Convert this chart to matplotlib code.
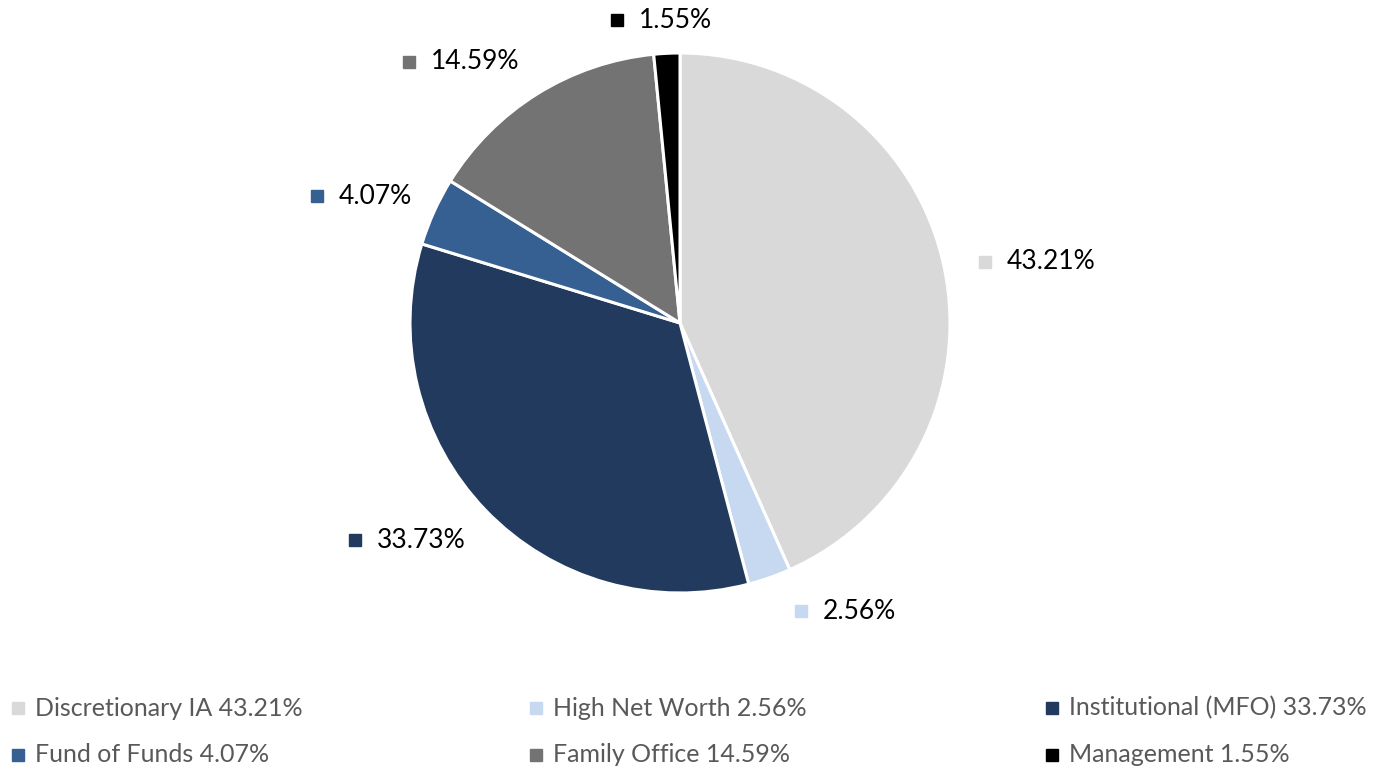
import numpy as np
import matplotlib
matplotlib.use("Agg")
import matplotlib.pyplot as plt

plt.rcParams['font.family'] = ['Lato', 'DejaVu Sans']

# data
categories = ['Discretionary IA', 'High Net Worth', 'Institutional (MFO)',
              'Fund of Funds', 'Family Office', 'Management']
shares = [43.21, 2.56, 33.73, 4.07, 14.59, 1.55]
colors = ['#D9D9D9', '#C6D9F0', '#223A5E', '#366092', '#737373', '#000000']

# label square positions (in pie radii from centre)
label_pos = [(1.13, 0.226), (0.448, -1.067), (-1.204, -0.804),
             (-1.344, 0.470), (-1.004, 0.967), (-0.233, 1.122)]

W, H = 1381, 770
cx, cy, R = 680, 323, 270
fig = plt.figure(figsize=(W / 100, H / 100), dpi=100)
ax = fig.add_axes([0, 0, 1, 1])

ax.pie(shares, colors=colors, startangle=90, counterclock=False, radius=1,
       wedgeprops=dict(edgecolor='white', linewidth=2.2))
ax.set_xlim(-cx / R, (W - cx) / R)
ax.set_ylim((cy - H) / R, cy / R)
ax.set_aspect('auto')
ax.axis('off')

for (x, y), v, c in zip(label_pos, shares, colors):
    ax.plot(x, y, marker='s', ms=8, color=c, linestyle='none')
    ax.text(x + 22 / R, y, '%.2f%%' % v, ha='left', va='center',
            fontsize=19, color='#000000')

# legend drawn in pixel layout: 3 columns, row-major
col_x = [18, 536, 1052]
row_y = [708, 755]
for i, (name, v, c) in enumerate(zip(categories, shares, colors)):
    px, py = col_x[i % 3], row_y[i // 3]
    x, y = (px - cx) / R, (cy - py) / R
    ax.plot(x, y, marker='s', ms=8, color=c, linestyle='none', clip_on=False)
    ax.text(x + 17 / R, y, '%s %.2f%%' % (name, v), ha='left', va='center',
            fontsize=18, color='#595959')

fig.savefig('out.png', dpi=100)
